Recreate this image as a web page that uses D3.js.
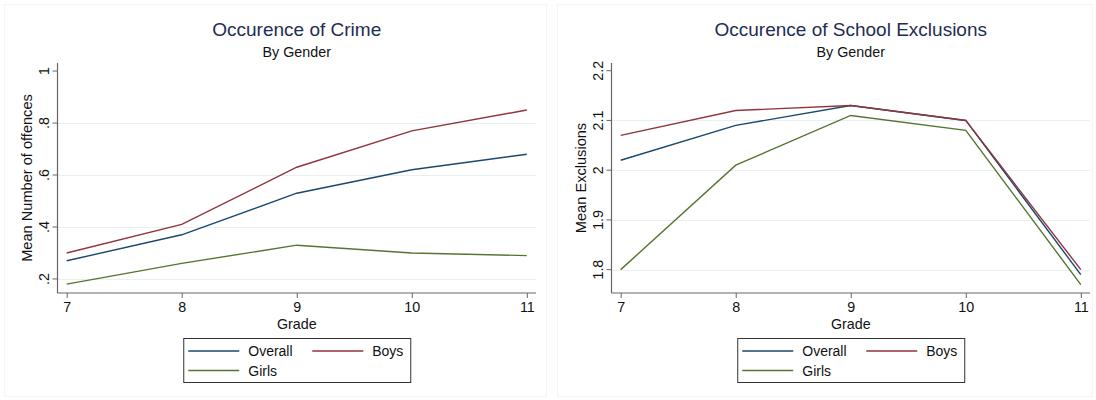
<!DOCTYPE html>
<html>
<head>
    <meta charset="utf-8" />
    <script src="https://cdn.jsdelivr.net/npm/d3@7"></script>
    <title>Occurence by Gender</title>
    <style>
        body { margin: 0; background: #fff; }
        text { font-family: "Liberation Sans", Arial, sans-serif; fill: #111; }
    </style>
</head>
<body>
    <script>
        // data
        var grades = [7, 8, 9, 10, 11];
        var seriesNames = ["Overall", "Boys", "Girls"];

        var crimeOverall = [0.27, 0.37, 0.53, 0.62, 0.68];
        var crimeBoys = [0.30, 0.41, 0.63, 0.77, 0.85];
        var crimeGirls = [0.18, 0.26, 0.33, 0.30, 0.29];
        var crimeTicks = [0.2, 0.4, 0.6, 0.8, 1];
        var crimeTickLabels = [".2", ".4", ".6", ".8", "1"];

        var exclOverall = [2.02, 2.09, 2.13, 2.10, 1.79];
        var exclBoys = [2.07, 2.12, 2.13, 2.10, 1.80];
        var exclGirls = [1.80, 2.01, 2.11, 2.08, 1.77];
        var exclTicks = [1.8, 1.9, 2.0, 2.1, 2.2];
        var exclTickLabels = ["1.8", "1.9", "2", "2.1", "2.2"];

        var colors = ["#1a476f", "#90353b", "#55752f"];

        var svgWidth = 1096,
            svgHeight = 400;

        var svg = d3.select("body")
            .append("svg")
            .attr("width", svgWidth)
            .attr("height", svgHeight);

        drawPanel({
            left: 57.5, right: 536, top: 63, bottom: 293,
            yDomain: [0.146, 1.031],
            title: "Occurence of Crime",
            yTitle: "Mean Number of offences",
            ticks: crimeTicks, tickLabels: crimeTickLabels,
            series: [crimeOverall, crimeBoys, crimeGirls],
            frame: [4, 4, 542, 392]
        });

        drawPanel({
            left: 611.5, right: 1090, top: 63, bottom: 293,
            yDomain: [1.753, 2.2155],
            title: "Occurence of School Exclusions",
            yTitle: "Mean Exclusions",
            ticks: exclTicks, tickLabels: exclTickLabels,
            series: [exclOverall, exclBoys, exclGirls],
            frame: [557, 4, 535, 392]
        });

        function drawPanel(p) {
            var g = svg.append("g");
            var x = d3.scaleLinear()
                .domain([6.92, 11.08])
                .range([p.left, p.right]);
            var y = d3.scaleLinear()
                .domain(p.yDomain)
                .range([p.bottom, p.top]);
            var cx = (p.left + p.right) / 2;

            // faint graph region outline
            g.append("rect")
                .attr("x", p.frame[0] + 0.5).attr("y", p.frame[1] + 0.5)
                .attr("width", p.frame[2]).attr("height", p.frame[3])
                .attr("fill", "none")
                .attr("stroke", "#f4f4f4");

            // titles
            g.append("text")
                .attr("x", cx).attr("y", 36)
                .attr("text-anchor", "middle")
                .style("font-size", "19px")
                .style("fill", "#1e2d53")
                .text(p.title);
            g.append("text")
                .attr("x", cx).attr("y", 56.5)
                .attr("text-anchor", "middle")
                .style("font-size", "14.3px")
                .text("By Gender");

            // grid lines (none at the top tick)
            g.selectAll(".grid")
                .data(p.ticks.slice(0, -1))
                .enter().append("line")
                .attr("class", "grid")
                .attr("x1", p.left).attr("x2", p.right)
                .attr("y1", function(d) { return Math.round(y(d)) + 0.5; })
                .attr("y2", function(d) { return Math.round(y(d)) + 0.5; })
                .attr("stroke", "#e8f0f1")
                .attr("stroke-width", 1.2);

            // x axis
            var xAxis = g.append("g")
                .attr("transform", "translate(0," + p.bottom + ")")
                .call(d3.axisBottom(x).tickValues(grades).tickSize(5).tickPadding(4).tickFormat(d3.format("d")));
            xAxis.select(".domain").remove();
            xAxis.selectAll(".tick line").attr("stroke", "#666");
            xAxis.selectAll("text")
                .style("font-size", "14.3px")
                .style("font-family", "'Liberation Sans', Arial, sans-serif")
                .attr("fill", "#111");
            g.append("line")
                .attr("x1", p.left).attr("x2", p.right)
                .attr("y1", p.bottom).attr("y2", p.bottom)
                .attr("stroke", "#666").attr("stroke-width", 1.2);
            g.append("text")
                .attr("x", cx).attr("y", 328.5)
                .attr("text-anchor", "middle")
                .style("font-size", "14.3px")
                .text("Grade");

            // y axis, tick labels rotated like Stata
            g.append("line")
                .attr("x1", p.left).attr("x2", p.left)
                .attr("y1", p.top).attr("y2", p.bottom)
                .attr("stroke", "#666").attr("stroke-width", 1.2);
            g.selectAll(".ytick")
                .data(p.ticks)
                .enter().append("line")
                .attr("class", "ytick")
                .attr("x1", p.left - 5).attr("x2", p.left)
                .attr("y1", function(d) { return y(d); })
                .attr("y2", function(d) { return y(d); })
                .attr("stroke", "#666");
            g.selectAll(".ylabel")
                .data(p.ticks)
                .enter().append("text")
                .attr("class", "ylabel")
                .attr("text-anchor", "middle")
                .attr("transform", function(d) {
                    return "translate(" + (p.left - 9) + "," + y(d) + ") rotate(-90)";
                })
                .style("font-size", "14.3px")
                .text(function(d, i) { return p.tickLabels[i]; });
            g.append("text")
                .attr("text-anchor", "middle")
                .attr("transform", "translate(" + (p.left - 25.5) + "," + ((p.top + p.bottom) / 2) + ") rotate(-90)")
                .style("font-size", "14.6px")
                .text(p.yTitle);

            // lines
            var line = d3.line()
                .x(function(d, i) { return x(grades[i]); })
                .y(function(d) { return y(d); });
            g.selectAll(".series")
                .data(p.series)
                .enter().append("path")
                .attr("class", "series")
                .attr("d", line)
                .attr("fill", "none")
                .attr("stroke", function(d, i) { return colors[i]; })
                .attr("stroke-width", 1.4);

            // legend
            var lx = cx - 113.5, ly = 338;
            var leg = g.append("g").attr("transform", "translate(" + lx + "," + ly + ")");
            leg.append("rect")
                .attr("x", 0.5).attr("y", 0.5)
                .attr("width", 227).attr("height", 44)
                .attr("fill", "#fff")
                .attr("stroke", "#333");
            var slots = [[5, 13], [129, 13], [5, 32.5]];
            seriesNames.forEach(function(name, i) {
                leg.append("line")
                    .attr("x1", slots[i][0]).attr("x2", slots[i][0] + 51)
                    .attr("y1", slots[i][1]).attr("y2", slots[i][1])
                    .attr("stroke", colors[i])
                    .attr("stroke-width", 1.4);
                leg.append("text")
                    .attr("x", slots[i][0] + 60)
                    .attr("y", slots[i][1] + 5)
                    .style("font-size", "14px")
                    .text(name);
            });
        }
    </script>
</body>
</html>
